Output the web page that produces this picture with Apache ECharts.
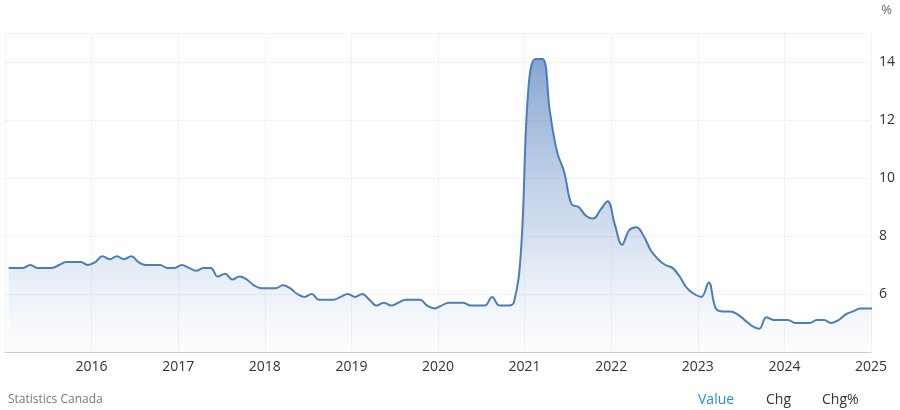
<!DOCTYPE html>
<html><head><meta charset="utf-8">
<script src="https://cdn.jsdelivr.net/npm/echarts@6/dist/echarts.min.js"></script>
<style>html,body{margin:0;padding:0;background:#fff}#c{width:900px;height:410px}</style>
</head><body><div id="c"></div>
<script>
const startYear = 2015;
const values = [
 6.9,6.9,6.9,7.0,6.9,6.9,6.9,7.0,7.1,7.1,7.1,7.0,
 7.1,7.3,7.2,7.3,7.2,7.3,7.1,7.0,7.0,7.0,6.9,6.9,
 7.0,6.9,6.8,6.9,6.9,6.6,6.7,6.5,6.6,6.5,6.3,6.2,
 6.2,6.2,6.3,6.2,6.0,5.9,6.0,5.8,5.8,5.8,5.9,6.0,
 5.9,6.0,5.8,5.6,5.7,5.6,5.7,5.8,5.8,5.8,5.6,5.5,
 5.6,5.7,5.7,5.7,5.6,5.6,5.6,5.9,5.6,5.6,5.7,7.5,
 13.0,14.1,14.1,12.3,10.9,10.2,9.1,9.0,8.7,8.6,8.9,9.2,
 8.4,7.7,8.2,8.3,8.0,7.5,7.2,7.0,6.9,6.6,6.2,6.0,
 5.9,6.4,5.5,5.4,5.4,5.3,5.1,4.9,4.8,5.2,5.1,5.1,
 5.1,5.0,5.0,5.0,5.1,5.1,5.0,5.1,5.3,5.4,5.5,5.5,
 5.5,5.5,5.7,5.8,5.7,5.9,5.8,6.1,6.2,6.3,6.4,6.4,
 6.5,6.7,6.6,6.6,6.6,6.9,6.7,6.6
];
const xTicks = [2016,2017,2018,2019,2020,2021,2022,2023,2024,2025];
const yTicks = [6,8,10,12,14];
const data = values.map((v,i)=>[startYear + (i+0.5)/12*(120/values.length*values.length/120), v]);
const chart = echarts.init(document.getElementById('c'));
chart.setOption({
  animation:false,
  grid:{left:5,right:29,top:33,bottom:58},
  graphic:[
    {type:'text',right:8,top:4,style:{text:'%',fill:'#666',font:'13px "Open Sans", Arial'}},
    {type:'text',left:8,top:394,style:{text:'Statistics Canada',fill:'#777',font:'12px "Open Sans", Arial'}},
    {type:'text',left:698,top:393,style:{text:'Value',fill:'#2a8fd0',font:'14px "Open Sans", Arial'}},
    {type:'text',left:766,top:393,style:{text:'Chg',fill:'#333',font:'14px "Open Sans", Arial'}},
    {type:'text',left:822,top:393,style:{text:'Chg%',fill:'#333',font:'14px "Open Sans", Arial'}}
  ],
  xAxis:{type:'value',min:2015,max:2025,interval:1,
    axisLine:{lineStyle:{color:'#ccc'}},axisTick:{show:false},
    axisLabel:{formatter:v=>xTicks.includes(v)?String(v):'',color:'#333',fontSize:14,margin:8,fontFamily:'"Open Sans", Arial'},
    splitLine:{show:true,lineStyle:{color:'#e6e6e6',type:'dotted'}}},
  yAxis:{type:'value',position:'right',min:4,max:15,interval:2,
    axisLine:{show:false},axisTick:{show:false},
    axisLabel:{formatter:v=>yTicks.includes(v)?String(v):'',color:'#333',fontSize:14,margin:8,fontFamily:'"Open Sans", Arial'},
    splitLine:{lineStyle:{color:'#e6e6e6',type:'dotted'}}},
  series:[{type:'line',data:data,smooth:0.4,symbol:'none',
    lineStyle:{color:'#4a7ebb',width:2},
    areaStyle:{color:new echarts.graphic.LinearGradient(0,0,0,1,[{offset:0,color:'rgba(74,120,185,0.95)'},{offset:0.6,color:'rgba(120,155,205,0.45)'},{offset:1,color:'rgba(220,230,245,0.15)'}]),origin:'start'}}]
});
</script></body></html>
